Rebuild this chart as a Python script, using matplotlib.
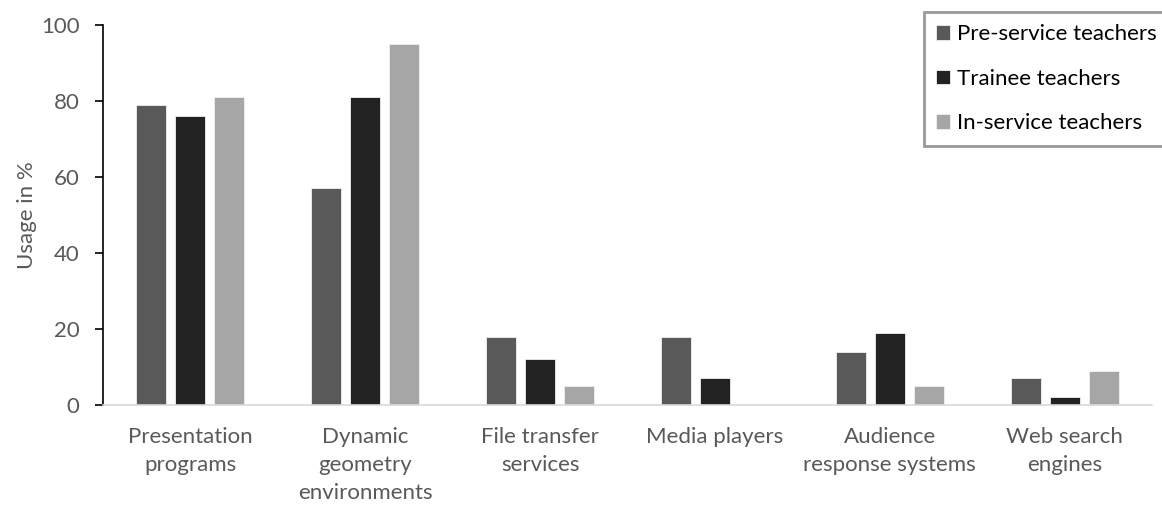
import numpy as np
import matplotlib.pyplot as plt

categories = ["Presentation\nprograms", "Dynamic\ngeometry\nenvironments",
              "File transfer\nservices", "Media players",
              "Audience\nresponse systems", "Web search\nengines"]
series_names = ["Pre-service teachers", "Trainee teachers", "In-service teachers"]
pre_service = [79, 57, 18, 18, 14, 7]
trainee = [76, 81, 12, 7, 19, 2]
in_service = [81, 95, 5, 0, 5, 9]

colors = ["#595959", "#222222", "#a6a6a6"]
text_color = "#595959"

plt.rcParams['font.family'] = ['Lato', 'DejaVu Sans']

fig = plt.figure(figsize=(11.62, 5.07), dpi=100)
ax = fig.add_axes([0.0886, 0.2012, 0.9028, 0.7495])

x = np.arange(len(categories))
width = 0.172
step = 0.223
for i, (vals, name) in enumerate(zip([pre_service, trainee, in_service], series_names)):
    ax.bar(x + (i - 1) * step, vals, width, color=colors[i], label=name,
           edgecolor="#f0f0f0", linewidth=0.6)

ax.set_xlim(-0.5, len(categories) - 0.5)
ax.set_ylim(0, 100)
ax.set_yticks(range(0, 101, 20))
ax.set_xticks(x)
ax.set_xticklabels(categories, fontsize=16, color=text_color, linespacing=1.5)
ax.tick_params(axis='y', labelsize=16, labelcolor=text_color, length=6,
               width=1.2, color='black', pad=11)
ax.tick_params(axis='x', length=0, pad=16)
ax.set_ylabel("Usage in %", fontsize=16, color=text_color, labelpad=3)

ax.spines['top'].set_visible(False)
ax.spines['right'].set_visible(False)
ax.spines['left'].set_color('black')
ax.spines['left'].set_linewidth(1.2)
ax.spines['bottom'].set_color('#d9d9d9')
ax.spines['bottom'].set_linewidth(1.2)

leg = fig.legend(loc='upper left', bbox_to_anchor=(0.7952, 0.976), fontsize=16,
                 frameon=True, fancybox=False, handlelength=0.63, handleheight=0.63,
                 handletextpad=0.3, labelspacing=1.1, borderpad=0.55,
                 borderaxespad=0)
leg.get_frame().set_edgecolor('#808080')
leg.get_frame().set_linewidth(2)
for t in leg.get_texts():
    t.set_color('black')

fig.savefig("out.png", dpi=100)
